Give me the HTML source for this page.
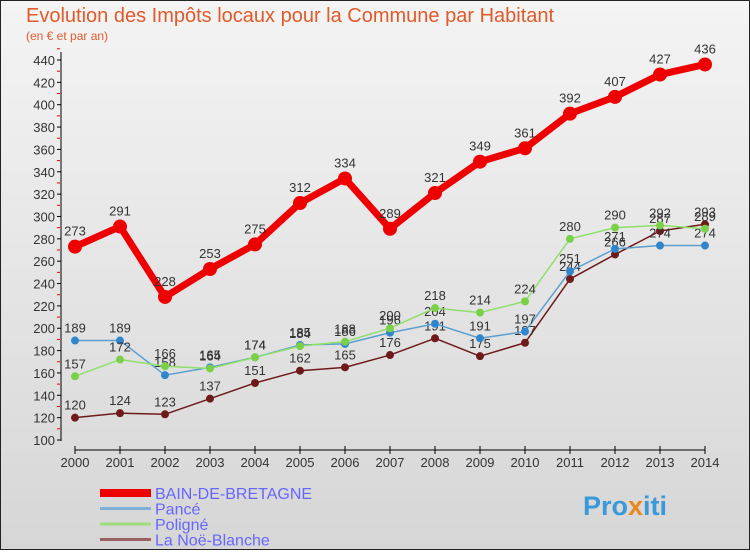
<!DOCTYPE html>
<html><head><meta charset="utf-8"><style>
html,body{margin:0;padding:0}
body{width:750px;height:550px;overflow:hidden;font-family:"Liberation Sans",sans-serif}
svg text{font-family:"Liberation Sans",sans-serif}
</style></head><body>
<svg id="c" width="750" height="550">
<defs><linearGradient id="bg" x1="0" y1="0" x2="0" y2="1"><stop offset="0" stop-color="#f4f4f4"/><stop offset="1" stop-color="#d6d6d6"/></linearGradient></defs>
<rect x="0.5" y="0.5" width="749" height="549" fill="url(#bg)" stroke="#222"/>
<text x="26" y="22" font-size="20" fill="#e05a2a">Evolution des Impôts locaux pour la Commune par Habitant</text>
<text x="26" y="40" font-size="12" fill="#e05a2a">(en € et par an)</text>
<g id="axes"></g><g id="series"></g><g id="legend"></g>
<text x="583" y="515" font-size="27" font-weight="bold" fill="#3a9ad9">Pro<tspan fill="#e8891d">x</tspan>iti</text>
</svg>
<script>
const years=[2000,2001,2002,2003,2004,2005,2006,2007,2008,2009,2010,2011,2012,2013,2014];
const yTicks=[100,120,140,160,180,200,220,240,260,280,300,320,340,360,380,400,420,440];
const bain=[273,291,228,253,275,312,334,289,321,349,361,392,407,427,436];
const pance=[189,189,158,165,174,185,186,196,204,191,197,251,271,274,274];
const poligne=[157,172,166,164,174,184,188,200,218,214,224,280,290,292,289];
const noe=[120,124,123,137,151,162,165,176,191,175,187,244,266,287,293];
const names=["BAIN-DE-BRETAGNE","Pancé","Poligné","La Noë-Blanche"];
const NS="http://www.w3.org/2000/svg";
const X=i=>75+i*45, Y=v=>440-(v-100)*380/340;
function mk(t,a,p){const e=document.createElementNS(NS,t);for(const k in a)e.setAttribute(k,a[k]);p.appendChild(e);return e;}
const ax=document.getElementById('axes');
mk('line',{x1:61,y1:52,x2:61,y2:441,stroke:'#000'},ax);
mk('line',{x1:75,y1:450,x2:705,y2:450,stroke:'#000'},ax);
yTicks.forEach(v=>{
 mk('line',{x1:57,y1:Y(v),x2:61,y2:Y(v),stroke:'#000'},ax);
 mk('line',{x1:57,y1:Y(v+10),x2:60,y2:Y(v+10),stroke:'#e00'},ax);
 const t=mk('text',{x:55,y:Y(v)+5,'font-size':13,'text-anchor':'end',fill:'#333'},ax);t.textContent=v;
 
 
});
years.forEach((yr,i)=>{
 mk('line',{x1:X(i),y1:446,x2:X(i),y2:454,stroke:'#000'},ax);
 const t=mk('text',{x:X(i),y:467,'font-size':13,'text-anchor':'middle',fill:'#333'},ax);t.textContent=yr;
 
 
});
const sg=document.getElementById('series');
const defs=[[noe,'#6e1a1a','#6e1a1a',1.5,4],[pance,'#5a9fd0','#2f86cc',1.5,4],[poligne,'#8ee06a','#7ad048',1.5,4],[bain,'#ee0000','#ee0000',7,7]];
const ids=['la-noe-blanche','pance','poligne','bain-de-bretagne'];
defs.forEach(([d,lc,pc,w,r],k)=>{
 const g=mk('g',{},sg);
 
 
 mk('polyline',{points:d.map((v,i)=>X(i)+','+Y(v)).join(' '),fill:'none',stroke:lc,'stroke-width':w,'stroke-linejoin':'round'},g);
 d.forEach((v,i)=>{
  const c=mk('circle',{cx:X(i),cy:Y(v),r:r,fill:pc},g);
  
  
  const t=mk('text',{x:X(i),y:Y(v)-(k==3?11:8),'font-size':13,'text-anchor':'middle',fill:'#333'},g);t.textContent=v;
  
  
 });
});
const lg=document.getElementById('legend');
const lcol=['#ee0000','#7fb0d8','#9edc7e','#9a6060'],lw=[8,3,3,3];
names.forEach((n,k)=>{
 const y=493+k*15.5;
 const g=mk('g',{},lg);
 
 
 mk('line',{x1:100,y1:y,x2:151,y2:y,stroke:lcol[k],'stroke-width':lw[k]},g);
 const t=mk('text',{x:155,y:y+6,'font-size':16,fill:'#6666ff'},g);t.textContent=n;
});
</script>
</body></html>
